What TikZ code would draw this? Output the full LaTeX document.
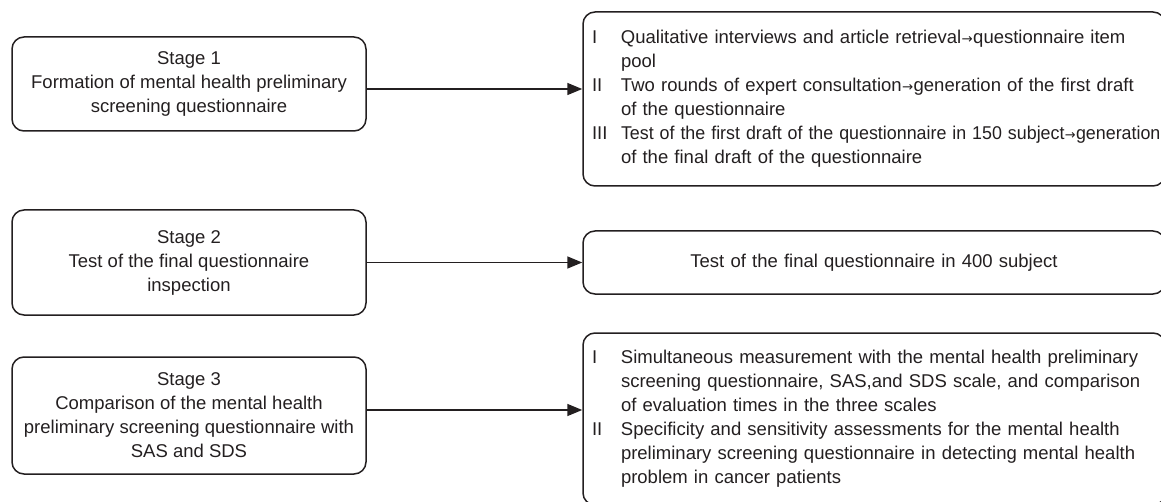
\documentclass[tikz,border=0pt]{standalone}
\usepackage{fontspec}
\setmainfont{Liberation Sans}
\newfontfamily\arrowfont{DejaVu Sans}
\usetikzlibrary{shapes,arrows.meta,positioning,calc}
\usepackage{xcolor}
\definecolor{ink}{HTML}{231F20}
\newcommand{\yields}{\kern0.02em{\arrowfont\scalebox{0.72}{→}}\kern0.02em}

\begin{document}
\begin{tikzpicture}[x=0.5pt, y=-0.5pt, every node/.style={font=\fontsize{9.25pt}{12pt}\selectfont, text=ink}]
    % Styles
    \tikzstyle{stage} = [rectangle, rounded corners=6pt, draw=ink, line width=0.75pt, minimum width=177pt, align=center, inner sep=0pt]
    \tikzstyle{detail} = [rectangle, rounded corners=6pt, draw=ink, line width=0.75pt, text width=282pt, inner xsep=4.5pt, inner ysep=0pt, align=left]
    \tikzstyle{flow} = [draw=ink, line width=0.75pt, -{Triangle[length=7.5pt, width=6pt]}]

    \useasboundingbox (0,0) rectangle (1161,502);
    \clip (0,0) rectangle (1161,502);

    % Stages
    \node[stage, minimum height=47pt] (stage1) at (189,84) {Stage 1\\Formation of mental health preliminary\\screening questionnaire};
    \node[stage, minimum height=52.5pt] (stage2) at (189,262.5) {Stage 2\\Test of the final questionnaire\\inspection};
    \node[stage, minimum height=58.5pt] (stage3) at (189,415.5) {Stage 3\\Comparison of the mental health\\preliminary screening questionnaire with\\SAS and SDS};

    % Details
    \node[detail, minimum height=87pt] (items1) at (874,99) {%
        \begin{tabular}{@{}p{14.5pt}@{}l@{}}
        I & Qualitative interviews and article retrieval\yields questionnaire item\\
          & pool\\
        II & Two rounds of expert consultation\yields generation of the first draft\\
           & of the questionnaire\\
        III & \scalebox{0.965}[1]{Test of the first draft of the questionnaire in 150 subject\yields generation}\\
            & of the final draft of the questionnaire
        \end{tabular}};
    \node[detail, minimum height=31.5pt, align=center] (items2) at (874,262.5) {Test of the final questionnaire in 400 subject};
    \node[detail, minimum height=86pt] (items3) at (874,419) {%
        \begin{tabular}{@{}p{14.5pt}@{}l@{}}
        I & Simultaneous measurement with the mental health preliminary\\
          & screening questionnaire, SAS,and SDS scale, and comparison\\
          & of evaluation times in the three scales\\
        II & Specificity and sensitivity assessments for the mental health\\
           & preliminary screening questionnaire in detecting mental health\\
           & problem in cancer patients
        \end{tabular}};

    % Arrows
    \draw[flow] ([yshift=-2.5pt]stage1.east) -- ([yshift=-2.5pt]stage1.east -| items1.west);
    \draw[flow] (stage2.east) -- (stage2.east -| items2.west);
    \draw[flow] ([yshift=2.75pt]stage3.east) -- ([yshift=2.75pt]stage3.east -| items3.west);
\end{tikzpicture}
\end{document}
